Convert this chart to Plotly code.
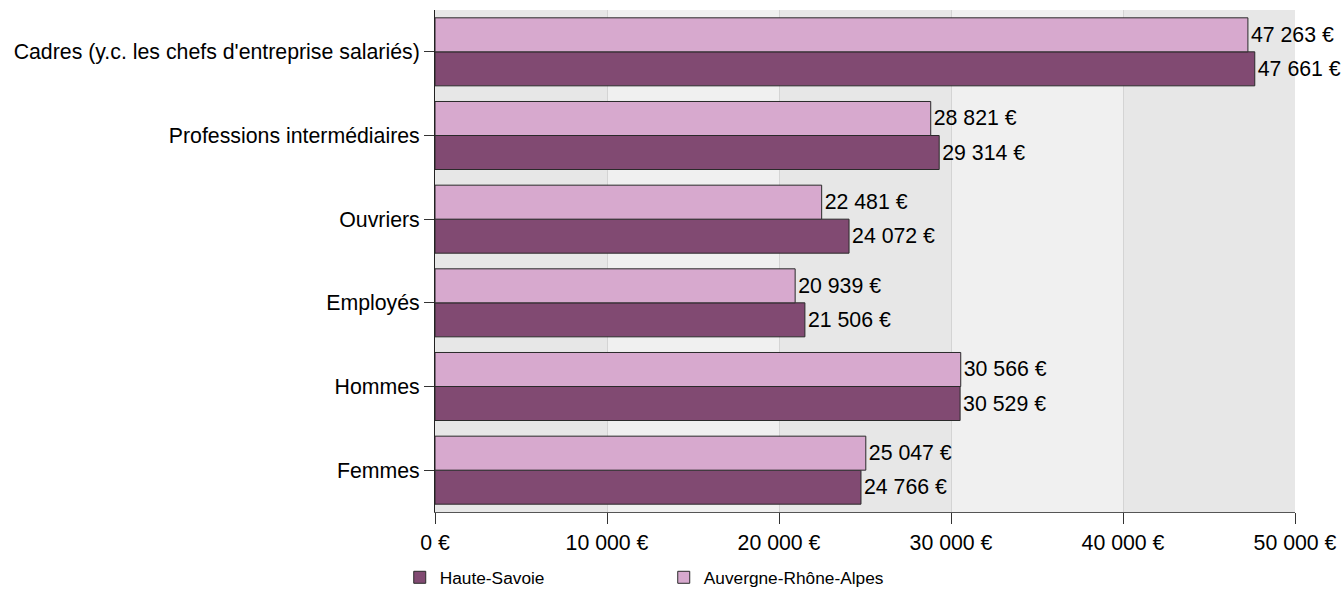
import plotly.graph_objects as go

categories = ["Cadres (y.c. les chefs d'entreprise salariés)", "Professions intermédiaires",
              "Ouvriers", "Employés", "Hommes", "Femmes"]
haute_savoie = [47661, 29314, 24072, 21506, 30529, 24766]
auvergne = [47263, 28821, 22481, 20939, 30566, 25047]
x_ticks = [0, 10000, 20000, 30000, 40000, 50000]
x_tick_labels = ["0 €", "10 000 €", "20 000 €", "30 000 €", "40 000 €", "50 000 €"]

FONT = "Liberation Sans, Arial, sans-serif"
FS = 21.3

fig = go.Figure()
fig.add_trace(go.Bar(
    y=categories, x=haute_savoie, orientation="h", name="Haute-Savoie",
    marker=dict(color="#814a72", line=dict(color="#2a2a2a", width=1)),
    texttemplate="%{x:,.0f} €", textposition="outside", cliponaxis=False,
    textfont=dict(size=FS, color="#000000", family=FONT),
))
fig.add_trace(go.Bar(
    y=categories, x=auvergne, orientation="h", name="Auvergne-Rhône-Alpes",
    marker=dict(color="#d7a9ce", line=dict(color="#2a2a2a", width=1)),
    texttemplate="%{x:,.0f} €", textposition="outside", cliponaxis=False,
    textfont=dict(size=FS, color="#000000", family=FONT),
))

shapes = []
for i in range(0, len(x_ticks) - 1, 2):
    shapes.append(dict(type="rect", xref="x", yref="paper", x0=x_ticks[i], x1=x_ticks[i + 1],
                       y0=0, y1=1, fillcolor="#e7e7e7", line=dict(width=0), layer="below"))

fig.update_layout(
    width=1341, height=589,
    margin=dict(l=435, r=46, t=10, b=77, autoexpand=False),
    barmode="group", bargap=0.187, bargroupgap=0,
    separators=", ",
    paper_bgcolor="white", plot_bgcolor="#f0f0f0",
    font=dict(family=FONT, size=FS, color="#000000"),
    shapes=shapes,
    showlegend=True,
    legend=dict(orientation="h", x=-0.041, xanchor="left", yref="container", y=0.05, yanchor="top",
                entrywidth=219, font=dict(size=17.3), traceorder="normal",
                itemwidth=30, bgcolor="rgba(0,0,0,0)"),
    xaxis=dict(range=[0, 50000], tickvals=x_ticks, ticktext=x_tick_labels,
               showgrid=True, gridcolor="#d4d4d4", gridwidth=1, zeroline=False,
               showline=True, linecolor="#555555", linewidth=1,
               ticks="outside", ticklen=11, tickcolor="#333333",
               tickfont=dict(size=FS)),
    yaxis=dict(categoryorder="array", categoryarray=categories[::-1],
               showline=True, linecolor="#222222", linewidth=1,
               ticks="outside", ticklen=10, tickcolor="#333333",
               showgrid=False, tickfont=dict(size=FS)),
)

fig.write_html("out.html", config={"displayModeBar": False},
               post_script="document.body.style.margin='0';")
